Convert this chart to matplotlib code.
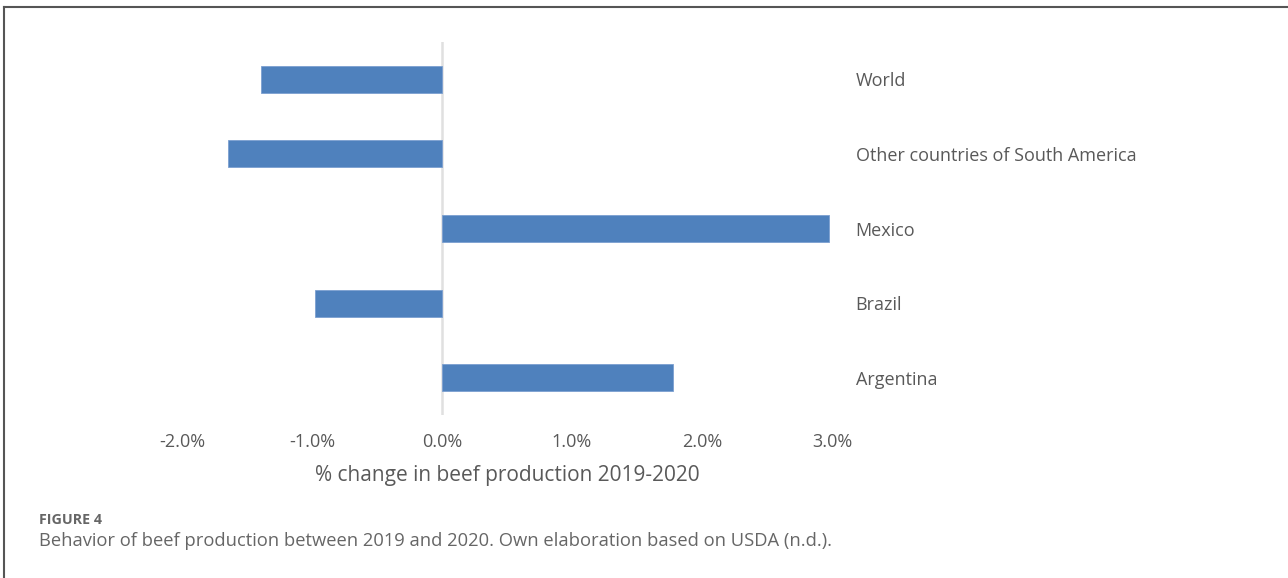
import matplotlib.pyplot as plt
from matplotlib.lines import Line2D
from matplotlib.ticker import FuncFormatter

# datos (de abajo hacia arriba)
paises = ["Argentina", "Brazil", "Mexico", "Other countries of South America", "World"]
cambio = [1.78, -0.98, 2.98, -1.65, -1.39]  # % cambio 2019-2020
ticks_x = [-2.0, -1.0, 0.0, 1.0, 2.0, 3.0]

W, H = 1288, 578
fig = plt.figure(figsize=(W / 100, H / 100), dpi=100)
plt.rcParams['font.family'] = ['Open Sans', 'DejaVu Sans']

gris = '#595959'

# area del grafico en pixeles
x0, x1 = 182, 832
y0, y1 = 42, 415
ax = fig.add_axes([x0 / W, 1 - y1 / H, (x1 - x0) / W, (y1 - y0) / H])

ax.barh(range(len(paises)), cambio, height=0.36, color='#4F81BD',
        edgecolor='#7C9FD0', linewidth=0.6, zorder=2)
ax.axvline(0, color='#e0e0e0', lw=1.8, zorder=1)

ax.set_xlim(-2, 3)
ax.set_ylim(-0.5, len(paises) - 0.5)
ax.set_xticks(ticks_x)
ax.xaxis.set_major_formatter(FuncFormatter(lambda v, p: f"{v:.1f}%"))
ax.set_yticks(range(len(paises)))
ax.set_yticklabels(paises)
ax.yaxis.tick_right()
ax.tick_params(axis='y', length=0, pad=17, labelsize=13, labelcolor=gris)
ax.tick_params(axis='x', length=0, pad=13, labelsize=13, labelcolor=gris)
for s in ax.spines.values():
    s.set_visible(False)

ax.set_xlabel("% change in beef production 2019-2020", fontsize=15,
              color=gris, labelpad=10)

# marco de la figura
fig.add_artist(Line2D([4 / W, 1], [1 - 7 / H, 1 - 7 / H], color='#555555', lw=1.5))
fig.add_artist(Line2D([4 / W, 4 / W], [0, 1 - 7 / H], color='#555555', lw=1.5))

# pie de figura
fig.text(39 / W, 1 - 520 / H, "FIGURE 4", fontsize=10.3, fontweight='bold',
         color='#666666', va='center')
fig.text(39 / W, 1 - 541 / H,
         "Behavior of beef production between 2019 and 2020. Own elaboration based on USDA (n.d.).",
         fontsize=13.2, color='#666666', va='center')

fig.savefig("out.png", dpi=100)
